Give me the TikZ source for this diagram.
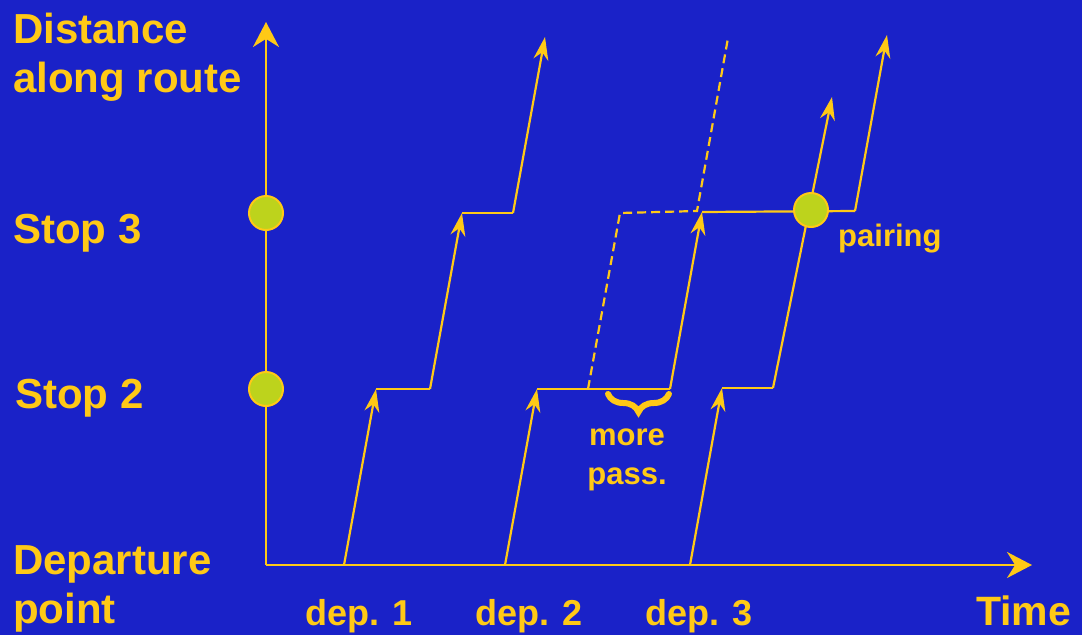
\documentclass[tikz,border=0pt]{standalone}
\usepackage{fontspec}
\setmainfont{Liberation Sans}
\usetikzlibrary{arrows.meta,decorations.pathreplacing}
\definecolor{bgblue}{HTML}{1A22C8}
\definecolor{gold}{HTML}{FFC916}
\definecolor{lime}{HTML}{BDD31C}
\tikzset{
  biglabel/.style={font=\bfseries\fontsize{42}{49}\selectfont,text=gold,anchor=base west,inner sep=0pt,align=left},
  deplabel/.style={font=\bfseries\fontsize{36}{40}\selectfont,text=gold,anchor=base west,inner sep=0pt},
  smalllabel/.style={font=\bfseries\fontsize{31}{39}\selectfont,text=gold,inner sep=0pt,align=center},
  axisarr/.style={-{Stealth[length=25pt,width=26pt]},draw=gold,line width=2.5pt},
  tripline/.style={draw=gold,line width=2.2pt},
  triparr/.style={tripline,-{Stealth[length=23pt,width=15pt]}},
  ghost/.style={tripline,dash pattern=on 9pt off 5pt},
  stopdot/.style={circle,draw=gold,fill=lime,line width=2pt,minimum size=34pt,inner sep=0pt}
}
\begin{document}
\begin{tikzpicture}[x=1pt,y=-1pt]
\path[use as bounding box,fill=bgblue] (0,0) rectangle (1082,635);
% axes
\coordinate (orig) at (266,565); \coordinate (ytip) at (266,22); \coordinate (xtip) at (1032,565);
\draw[axisarr] (orig)--(ytip); \draw[axisarr] (orig)--(xtip);
\node[biglabel] (dist) at (13,92) {Distance\\along route};
\node[biglabel] (stop3) at (13,243) {Stop 3};
\node[biglabel] (stop2) at (15,408) {Stop 2};
\node[biglabel] (depart) at (13,623) {Departure\\point};
\node[biglabel,font=\bfseries\fontsize{41}{46}\selectfont] (time) at (976,625) {Time};
\node[deplabel] (dep1) at (305,625) {dep. 1}; \node[deplabel] (dep2) at (475,625) {dep. 2}; \node[deplabel] (dep3) at (645,625) {dep. 3};
% bus 1
\coordinate (b1s) at (344,565); \coordinate (b1a) at (376,389); \coordinate (b1d) at (430,389); \coordinate (b1b) at (462,213); \coordinate (b1e) at (513,213); \coordinate (b1t) at (545,37);
\draw[triparr] (b1s)--(b1a); \draw[tripline] (b1a)--(b1d); \draw[triparr] (b1d)--(b1b); \draw[tripline] (b1b)--(b1e); \draw[triparr] (b1e)--(b1t);
% bus 2
\coordinate (b2s) at (505,565); \coordinate (b2a) at (537,389); \coordinate (b2d) at (670,389); \coordinate (b2b) at (702,212); \coordinate (b2e) at (855,211); \coordinate (b2t) at (887,35);
\draw[triparr] (b2s)--(b2a); \draw[tripline] (b2a)--(b2d); \draw[triparr] (b2d)--(b2b); \draw[tripline] (b2b)--(b2e); \draw[triparr] (b2e)--(b2t);
% bus 3
\coordinate (b3s) at (690,565); \coordinate (b3a) at (722,388); \coordinate (b3d) at (773,388); \coordinate (b3t) at (832,97);
\draw[triparr] (b3s)--(b3a); \draw[tripline] (b3a)--(b3d); \draw[triparr] (b3d)--(b3t);
% schedule without extra passengers
\coordinate (g1) at (588,389); \coordinate (g2) at (620,213); \coordinate (g3) at (697,211); \coordinate (g4) at (728,38);
\draw[ghost] (g1)--(g2)--(g3)--(g4);
\coordinate (brl) at (608,394); \coordinate (brr) at (669,394);
\draw[gold,line width=6pt,line cap=round,decorate,decoration={brace,mirror,amplitude=18pt}] (brl)--(brr);
\node[smalllabel,anchor=base] (more) at (627,484) {more\\pass.};
% stops
\node[stopdot] (s3) at (266,213) {}; \node[stopdot] (s2) at (266,389) {};
\node[stopdot] (pair) at (811,210) {};
\node[smalllabel,anchor=base west] (pairing) at (838,246) {pairing};
\end{tikzpicture}
\end{document}
